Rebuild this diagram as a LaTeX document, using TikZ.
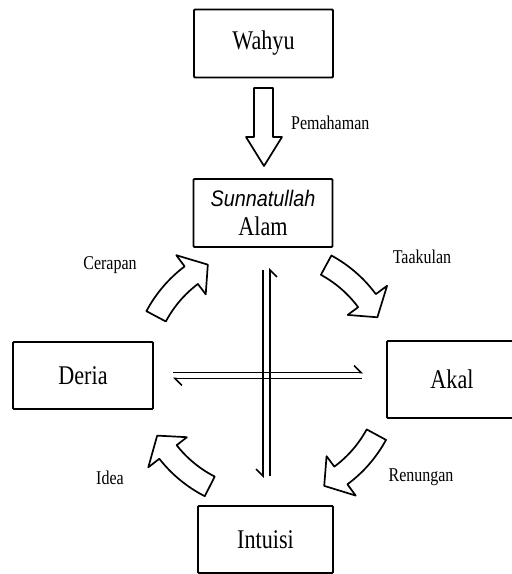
\documentclass[tikz,border=0pt]{standalone}
\usepackage{fontspec}
\setmainfont{Liberation Serif}[FakeStretch=0.82]
\newfontfamily\sunnafont{Liberation Sans}[FakeStretch=0.88]
\usetikzlibrary{arrows.meta}

\begin{document}
\begin{tikzpicture}[x=1pt,y=-1pt,
  box/.style={draw,line width=1.8pt,rounded corners=1pt,minimum width=139pt,
              minimum height=68pt,inner sep=0pt,align=center,
              font=\fontsize{27}{29}\selectfont},
  lbl/.style={font=\fontsize{19.5}{22}\selectfont,inner sep=1pt},
  harp/.style={line width=1.6pt},
  hollow/.style={draw,line width=1.7pt,fill=white,line join=round},
]
\useasboundingbox (0,0) rectangle (512,574);
\clip (0,0) rectangle (512,574);

% Boxes
\node[box] (wahyu) at (263.5,43.5) {Wahyu};
\node[box] (alam) at (263,213)
  {{\sunnafont\itshape\fontsize{22.5}{28}\selectfont Sunnatullah}\\Alam};
\node[box,minimum width=140pt,minimum height=67pt] (deria) at (83,375.5) {Deria};
\node[box,minimum width=130pt,minimum height=77pt] (akal) at (452,379.5) {Akal};
\node[box,minimum width=135pt,minimum height=67pt] (intuisi) at (265.5,539.5) {Intuisi};

% Pemahaman arrow
\draw[hollow] (254,88) -- (273,88) -- (273,137) -- (282,137) -- (264,166)
  -- (246,137) -- (254,137) -- cycle;
\node[lbl,anchor=west] (pemahaman) at (290,123) {Pemahaman};

% Crossing harpoons
\draw[harp,-{Straight Barb[right,length=7pt,width=14pt]}] (263,270) -- (263,478);
\draw[harp,-{Straight Barb[right,length=7pt,width=14pt]}] (270,476) -- (270,268);
\draw[harp,-{Straight Barb[left,length=7pt,width=14pt]}] (173,372.5) -- (363,372.5);
\draw[harp,-{Straight Barb[left,length=7pt,width=14pt]}] (362,378.5) -- (173,378.5);

% Curved arrows round the cross
\begin{scope}[shift={(266.5,375)},yscale=-1]
  \foreach \a [evaluate=\a as \b using \a-25, evaluate=\a as \t using \a-34]
      in {152,61.5,-28.5,-117}
    \draw[hollow] (\a:114) arc[start angle=\a,end angle=\b,radius=114]
      -- (\b:101) -- (\t:125) -- (\b:150) -- (\b:136)
      arc[start angle=\b,end angle=\a,radius=136] -- cycle;
\end{scope}

% Labels
\node[lbl] (cerapan) at (110,265) {Cerapan};
\node[lbl] (taakulan) at (422,257) {Taakulan};
\node[lbl] (renungan) at (421,477) {Renungan};
\node[lbl] (idea) at (110,478) {Idea};

\end{tikzpicture}
\end{document}
